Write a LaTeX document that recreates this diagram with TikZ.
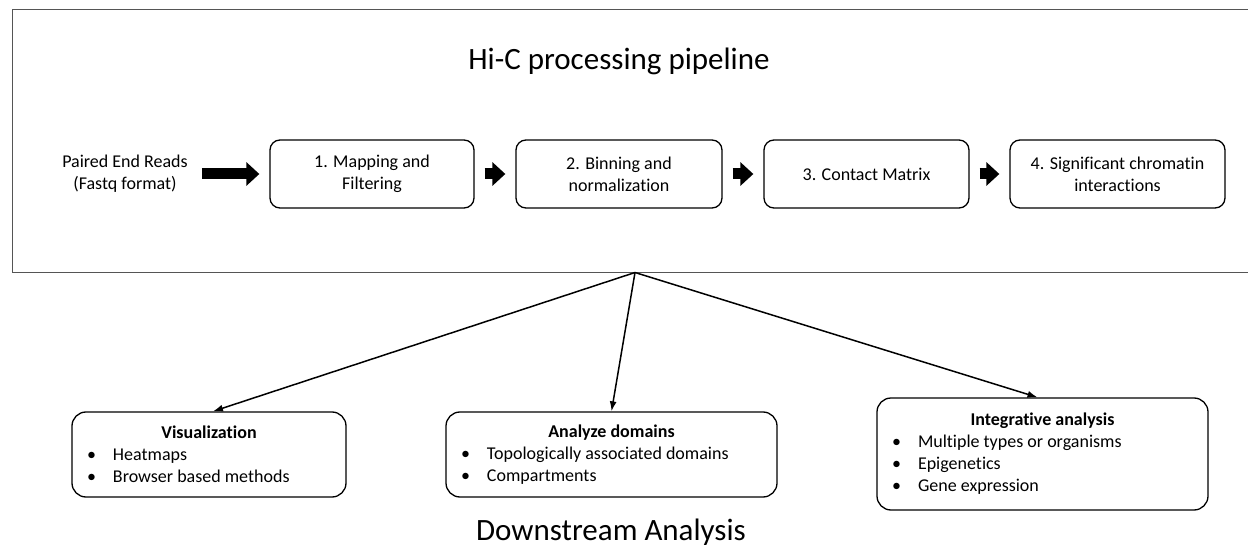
\documentclass[tikz,border=0pt]{standalone}
\usepackage{fontspec}
\setmainfont{Carlito}[Ligatures=NoCommon]
\usetikzlibrary{arrows.meta,calc}
\definecolor{framegray}{RGB}{85,85,85}
\newcommand{\headline}[2]{\makebox[#1][c]{\bfseries #2}}
\newcommand{\bulletitem}[1]{\makebox[26pt][l]{\textbullet}#1}
\begin{document}
\begin{tikzpicture}[x=1pt,y=-1pt,
  bodyfont/.style={font=\fontsize{18}{22}\selectfont},
  bigfont/.style={font=\fontsize{31}{37}\selectfont},
  stage/.style={draw, line width=1.3pt, rounded corners=10pt,
    minimum height=68pt, inner sep=0pt, align=center, bodyfont},
  blockarrow/.style={line width=11pt, -{Triangle[length=13pt,width=23pt]}},
  result/.style={draw, line width=1.3pt, rounded corners=14pt,
    inner xsep=15pt, inner ysep=0pt, align=flush left, bodyfont},
  link/.style={line width=1.5pt, -{Latex[length=10pt,width=7pt]}}]
\useasboundingbox (0,0) rectangle (1248,548);

% frame of the processing pipeline (open on the right)
\draw[framegray, line width=1pt] (1252,9.5) -- (12.5,9.5) -- (12.5,272.5) -- (1252,272.5);

\node[bigfont, anchor=base] (title) at (619,70) {Hi-C processing pipeline};

% pipeline stages
\node[bodyfont, align=center, inner sep=0pt] (reads) at (125,174) {Paired End Reads\\(Fastq format)};
\node[stage, minimum width=204pt] (b1) at (372,174) {1. Mapping and\\Filtering};
\node[stage, minimum width=206pt] (b2) at (619,174) {2. Binning and\\normalization};
\node[stage, minimum width=205pt] (b3) at (866.5,174) {3. Contact Matrix};
\node[stage, minimum width=215pt] (b4) at (1117.5,174) {4. Significant chromatin\\interactions};

\draw[blockarrow, shorten <=14pt, shorten >=10pt] (reads) -- (b1);
\draw[blockarrow, shorten <=10pt, shorten >=10pt] (b1) -- (b2);
\draw[blockarrow, shorten <=10pt, shorten >=10pt] (b2) -- (b3);
\draw[blockarrow, shorten <=10pt, shorten >=10pt] (b3) -- (b4);

% downstream analyses
\node[result, text width=244pt, minimum height=85pt] (viz) at (209,454.5)
  {\headline{244pt}{Visualization}\\
   \bulletitem{Heatmaps}\\
   \bulletitem{Browser based methods}};
\node[result, text width=301pt, minimum height=85pt] (ana) at (611.5,454.5)
  {\headline{301pt}{Analyze domains}\\
   \bulletitem{Topologically associated domains}\\
   \bulletitem{Compartments}};
\node[result, text width=301pt, minimum height=112pt] (int) at (1042.5,454)
  {\headline{301pt}{Integrative analysis}\\
   \bulletitem{Multiple types or organisms}\\
   \bulletitem{Epigenetics}\\
   \bulletitem{Gene expression}};

\coordinate (apex) at (635,272.5);
\draw[link] (apex) -- ($(viz.north)+(4,0)$);
\draw[link] (apex) -- (ana.north);
\draw[link] (apex) -- ($(int.north)+(-5,0)$);

\node[bigfont, anchor=base] (down) at (611,540) {Downstream Analysis};
\end{tikzpicture}
\end{document}
